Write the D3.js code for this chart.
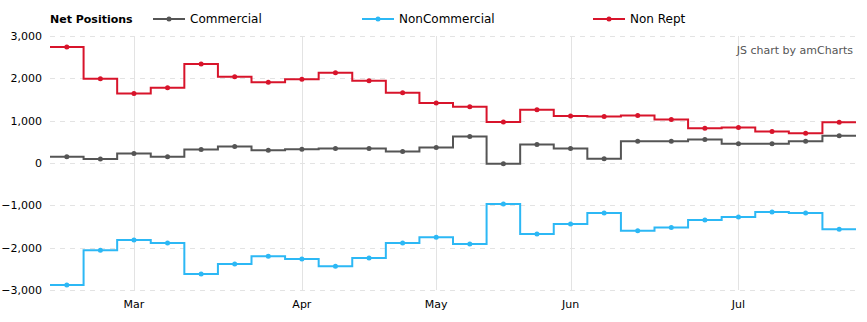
<!DOCTYPE html>
<html>
<head>
<meta charset="utf-8">
<script src="https://cdn.jsdelivr.net/npm/d3@7/dist/d3.min.js"></script>
<style>
  html, body { margin: 0; padding: 0; background: #fff; }
  svg { display: block; font-family: "DejaVu Sans", Verdana, sans-serif; }
</style>
</head>
<body>
<svg id="chart" width="867" height="322"></svg>
<script>
// ---- data ----
const dates = [
  "2021-02-16","2021-02-23","2021-03-02","2021-03-09","2021-03-16","2021-03-23","2021-03-30",
  "2021-04-06","2021-04-13","2021-04-20","2021-04-27",
  "2021-05-04","2021-05-11","2021-05-18","2021-05-25",
  "2021-06-01","2021-06-08","2021-06-15","2021-06-22","2021-06-29",
  "2021-07-06","2021-07-13","2021-07-20","2021-07-27"
];
const commercial = [150, 95, 222, 150, 317, 389, 302, 325, 341, 341, 270, 365, 627, -16, 437, 341, 103, 516, 516, 555, 452, 452, 516, 643];
const nonCommercial = [-2882, -2063, -1820, -1890, -2620, -2385, -2200, -2267, -2440, -2243, -1890, -1753, -1914, -969, -1675, -1440, -1180, -1600, -1525, -1345, -1275, -1157, -1180, -1565];
const nonRept = [2740, 1990, 1640, 1780, 2340, 2040, 1910, 1980, 2130, 1940, 1660, 1420, 1330, 970, 1260, 1110, 1100, 1120, 1030, 820, 840, 745, 700, 960];
const yTicks = [-3000, -2000, -1000, 0, 1000, 2000, 3000];
const seriesNames = ["Commercial", "NonCommercial", "Non Rept"];
const seriesColors = ["#555555", "#2cb8f5", "#d8142b"];
const legendTitle = "Net Positions";
const creditText = "JS chart by amCharts";

// ---- layout ----
const svg = d3.select("#chart");
const plotLeft = 50, plotRight = 856, plotTop = 36, plotBottom = 290;

const x = d3.scaleBand().domain(dates).range([plotLeft, plotRight]).paddingInner(0).paddingOuter(0);
const y = d3.scaleLinear().domain([-3000, 3000]).range([plotBottom, plotTop]);
const parse = d3.timeParse("%Y-%m-%d");
const fmtMonth = d3.timeFormat("%b");
const fmtNum = d3.format(",");

// month gridlines at first data point of each month
const monthStarts = dates.filter((d, i) => i > 0 && parse(d).getMonth() !== parse(dates[i - 1]).getMonth());

// horizontal dashed grid
svg.append("g").selectAll("line").data(yTicks).join("line")
  .attr("x1", plotLeft).attr("x2", plotRight)
  .attr("y1", d => Math.round(y(d)) + 0.5).attr("y2", d => Math.round(y(d)) + 0.5)
  .attr("stroke", "#e3e3e3").attr("stroke-width", 1).attr("stroke-dasharray", "5,5");

// vertical month grid
svg.append("g").selectAll("line").data(monthStarts).join("line")
  .attr("x1", d => Math.round(x(d) + x.bandwidth() / 2) + 0.5)
  .attr("x2", d => Math.round(x(d) + x.bandwidth() / 2) + 0.5)
  .attr("y1", plotTop).attr("y2", plotBottom)
  .attr("stroke", "#e3e3e3").attr("stroke-width", 1);

// y axis labels
svg.append("g").selectAll("text").data(yTicks).join("text")
  .attr("x", 42).attr("y", d => y(d)).attr("dy", "0.35em")
  .attr("text-anchor", "end").attr("font-size", 11).attr("fill", "#000")
  .text(d => fmtNum(d));

// x axis labels
svg.append("g").selectAll("text").data(monthStarts).join("text")
  .attr("x", d => x(d) + x.bandwidth() / 2).attr("y", 308)
  .attr("text-anchor", "middle").attr("font-size", 11).attr("fill", "#000")
  .text(d => fmtMonth(parse(d)));

// step lines
const allSeries = [commercial, nonCommercial, nonRept];
const line = d3.line().x(p => p[0]).y(p => p[1]);
allSeries.forEach((vals, si) => {
  const pts = [];
  vals.forEach((v, i) => {
    const x0 = x(dates[i]), x1 = x0 + x.bandwidth();
    pts.push([x0, y(v)], [x1, y(v)]);
  });
  svg.append("path").attr("d", line(pts))
    .attr("fill", "none").attr("stroke", seriesColors[si])
    .attr("stroke-width", 2).attr("stroke-linejoin", "miter");
  svg.append("g").selectAll("circle").data(vals).join("circle")
    .attr("cx", (v, i) => x(dates[i]) + x.bandwidth() / 2)
    .attr("cy", v => y(v)).attr("r", 2.5)
    .attr("fill", seriesColors[si]);
});

// legend
svg.append("text").attr("x", 50).attr("y", 23)
  .attr("font-size", 11).attr("font-weight", "bold").attr("fill", "#000")
  .text(legendTitle);
const legendX = [153, 362, 593];
seriesNames.forEach((name, i) => {
  const g = svg.append("g").attr("transform", `translate(${legendX[i]},19)`);
  g.append("line").attr("x1", 0).attr("x2", 32).attr("y1", 0).attr("y2", 0)
    .attr("stroke", seriesColors[i]).attr("stroke-width", 2);
  g.append("circle").attr("cx", 16).attr("cy", 0).attr("r", 2.5).attr("fill", seriesColors[i]);
  g.append("text").attr("x", 37).attr("y", 0).attr("dy", "0.35em")
    .attr("font-size", 12).attr("fill", "#000").text(name);
});

// credit
svg.append("text").attr("x", 853).attr("y", 50).attr("dy", "0.35em")
  .attr("text-anchor", "end").attr("font-size", 11).attr("fill", "#555")
  .text(creditText);
</script>
</body>
</html>
